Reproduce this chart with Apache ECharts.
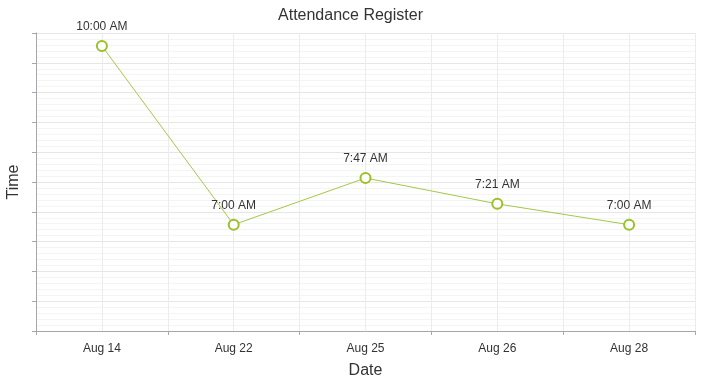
<!DOCTYPE html>
<html>
<head>
<meta charset="utf-8">
<script src="https://cdn.jsdelivr.net/npm/echarts@6/dist/echarts.min.js"></script>
<style>html,body{margin:0;padding:0;background:#fff;}#c{width:701px;height:385px;}</style>
</head>
<body>
<div id="c"></div>
<script>
const categories = ['Aug 14', 'Aug 22', 'Aug 25', 'Aug 26', 'Aug 28'];
const arrivalTimes = ['10:00', '7:00', '7:47', '7:21', '7:00'];
const arrivalLabels = ['10:00 AM', '7:00 AM', '7:47 AM', '7:21 AM', '7:00 AM'];

function toMinutes(t) { const p = t.split(':'); return (+p[0]) * 60 + (+p[1]); }
const values = arrivalTimes.map(toMinutes);

const FONT = '"Liberation Sans", Arial, sans-serif';
const chart = echarts.init(document.getElementById('c'), null, {renderer: 'canvas'});
chart.setOption({
  animation: false,
  backgroundColor: '#ffffff',
  title: {
    text: 'Attendance Register', left: 'center', top: 3,
    textStyle: {fontFamily: FONT, fontSize: 16, fontWeight: 'normal', color: '#333333'}
  },
  grid: {left: 36, top: 33, right: 6, bottom: 54, containLabel: false, outerBoundsMode: 'none'},
  xAxis: [{
    type: 'category', data: categories, boundaryGap: true, position: 'bottom',
    name: 'Date', nameLocation: 'middle', nameGap: 32,
    nameTextStyle: {fontFamily: FONT, fontSize: 16, color: '#333333'},
    axisLine: {lineStyle: {color: '#a6a6ae', width: 1}},
    axisTick: {show: true, length: 4, lineStyle: {color: '#a6a6ae'}},
    axisLabel: {fontFamily: FONT, fontSize: 12, color: '#333333', margin: 12},
    splitLine: {show: false}
  }, {
    type: 'value', min: 0, max: 10, interval: 1, position: 'bottom',
    axisLine: {show: false}, axisTick: {show: false}, axisLabel: {show: false},
    splitLine: {show: true, lineStyle: {color: '#ececec', width: 1}}
  }],
  yAxis: [{
    type: 'value', min: 313, max: 613, show: false, position: 'left'
  }, {
    type: 'value', min: 0, max: 300, interval: 30, position: 'left',
    name: 'Time', nameLocation: 'middle', nameGap: 14,
    nameTextStyle: {fontFamily: FONT, fontSize: 16, color: '#333333'},
    axisLine: {show: true, lineStyle: {color: '#a6a6ae', width: 1}},
    axisTick: {show: true, length: 4, lineStyle: {color: '#a6a6ae'}},
    axisLabel: {show: false},
    minorTick: {show: false, splitNumber: 5},
    splitLine: {show: true, lineStyle: {color: '#e6e6e6', width: 1}},
    minorSplitLine: {show: true, lineStyle: {color: '#f4f4f4', width: 1}}
  }],
  series: [{
    type: 'line', xAxisIndex: 0, yAxisIndex: 0,
    data: values,
    symbol: 'circle', symbolSize: 10,
    itemStyle: {color: '#ffffff', borderColor: '#99c128', borderWidth: 2},
    lineStyle: {color: '#a3c84a', width: 1},
    label: {
      show: true, position: 'top', distance: 7,
      fontFamily: FONT, fontSize: 12, color: '#333333',
      formatter: p => arrivalLabels[p.dataIndex]
    },
    z: 10
  }]
});
</script>
</body>
</html>
